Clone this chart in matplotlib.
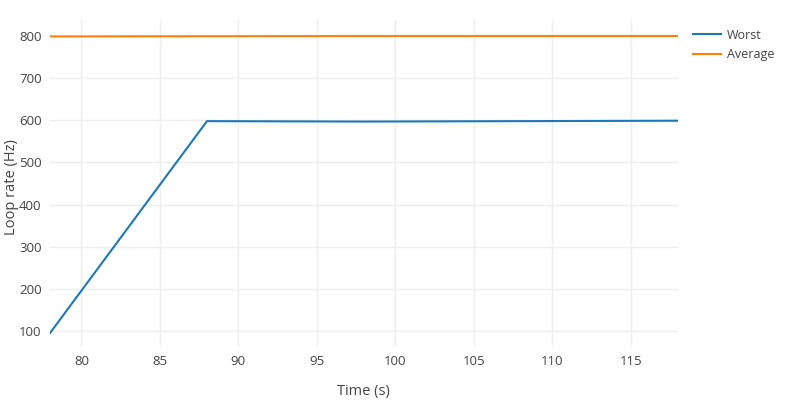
import matplotlib
matplotlib.use("Agg")
import matplotlib.pyplot as plt

time_s = [78, 88, 98, 108, 118]
worst_hz = [95, 598, 597, 598, 599]
average_hz = [799, 799.5, 800, 800, 800]

plt.rcParams['font.family'] = ['Open Sans', 'DejaVu Sans']

fig = plt.figure(figsize=(8, 4), dpi=100)
ax = fig.add_axes([50 / 800, 53 / 400, 628 / 800, 327 / 400])

ax.plot(time_s, worst_hz, color='#1f77b4', lw=1.5, label='Worst')
ax.plot(time_s, average_hz, color='#ff7f0e', lw=1.5, label='Average')

ax.set_xlim(78, 118)
ax.set_ylim(62, 838)
ax.set_xticks(range(80, 120, 5))
ax.set_yticks(range(100, 900, 100))

for s in ax.spines.values():
    s.set_visible(False)
ax.grid(True, color='#eeeeee', lw=1)
ax.set_axisbelow(True)
ax.tick_params(length=0, labelsize=9.5, labelcolor='#444444', pad=6)

# axis titles at fixed spots
fig.text(363 / 800, 1 - 391 / 400, 'Time (s)', fontsize=10.5, color='#444444',
         ha='center', va='center')
fig.text(12 / 800, 1 - 187 / 400, 'Loop rate (Hz)', fontsize=10.5, color='#444444',
         ha='center', va='center', rotation=90)

ax.legend(loc='upper left', bbox_to_anchor=(1.01, 1.0), frameon=False,
          fontsize=9, labelcolor='#444444', handlelength=2.2, handletextpad=0.5,
          labelspacing=0.5, borderaxespad=0.3)

fig.savefig('out.png', dpi=100)
